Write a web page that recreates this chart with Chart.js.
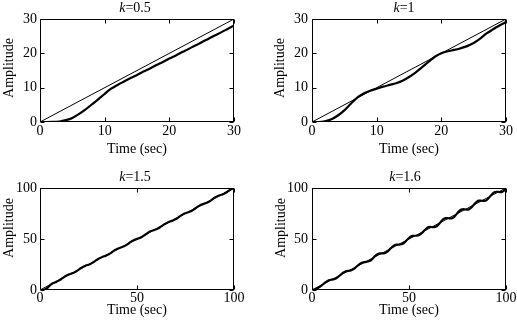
<!DOCTYPE html>
<html><head><meta charset="utf-8">
<script src="https://cdn.jsdelivr.net/npm/chart.js@4"></script>
<style>
html,body{margin:0;padding:0;background:#fff;width:517px;height:325px;overflow:hidden}
canvas{position:absolute}
</style></head><body>
<canvas id="c1" width="258" height="162" style="left:0;top:0"></canvas>
<canvas id="c2" width="259" height="162" style="left:258px;top:0"></canvas>
<canvas id="c3" width="258" height="163" style="left:0;top:162px"></canvas>
<canvas id="c4" width="259" height="163" style="left:258px;top:162px"></canvas>
<script>
// ---- data ----
const tShort = [0,1,2,3,4,5,6,7,8,9,10,11,12,13,14,15,16,17,18,19,20,21,22,23,24,25,26,27,28,29,30];
const respK05 = [0,0,0.02,0.15,0.55,1.2,2.3,3.6,5.1,6.6,8.2,9.7,10.8,11.8,12.8,13.7,14.7,15.6,16.6,17.5,18.5,19.4,20.4,21.3,22.3,23.2,24.2,25.2,26.1,27.1,28.1];
const respK1 = [0,0,0.2,0.8,1.9,3.4,5.3,7.1,8.3,9.1,9.7,10.3,10.8,11.3,12.0,13.1,14.4,15.9,17.5,19.0,20.0,20.6,21.0,21.5,22.1,23.0,24.3,25.8,27.0,28.1,29.1];
const tLong = [0,1,2,3,4,5,6,7,8,9,10,11,12,13,14,15,16,17,18,19,20,21,22,23,24,25,26,27,28,29,30,31,32,33,34,35,36,37,38,39,40,41,42,43,44,45,46,47,48,49,50,51,52,53,54,55,56,57,58,59,60,61,62,63,64,65,66,67,68,69,70,71,72,73,74,75,76,77,78,79,80,81,82,83,84,85,86,87,88,89,90,91,92,93,94,95,96,97,98,99,100];
const respK15 = [0,0,0.2,0.9,2.3,4.3,5.9,6.9,7.7,8.5,9.6,10.8,12.2,13.5,14.5,15.3,15.9,16.6,17.5,18.7,20.0,21.3,22.5,23.4,24.2,24.8,25.6,26.6,27.8,29.2,30.4,31.5,32.3,33.0,33.7,34.5,35.6,36.9,38.3,39.5,40.5,41.2,41.9,42.6,43.5,44.7,46.1,47.4,48.5,49.4,50.1,50.7,51.5,52.6,53.9,55.2,56.5,57.5,58.3,58.9,59.6,60.5,61.7,63.0,64.3,65.5,66.4,67.2,67.8,68.6,69.6,70.8,72.2,73.4,74.5,75.3,76.0,76.7,77.5,78.6,79.9,81.3,82.5,83.5,84.2,84.9,85.6,86.5,87.7,89.1,90.4,91.5,92.4,93.1,93.7,94.5,95.6,96.9,98.1,99.2,99.8];
const respK16 = [0,0.2,1.0,2.0,3.1,4.5,6.1,7.6,8.9,9.7,10.1,10.4,11.0,12.1,13.7,15.4,16.9,18.0,18.5,18.8,19.2,20.0,21.3,23.0,24.6,26.0,26.8,27.3,27.5,28.1,28.7,30.4,32.4,34.2,35.4,35.9,36.0,36.0,36.6,37.9,39.7,41.7,43.3,44.3,44.5,44.5,44.8,45.6,47.2,49.2,51.0,52.4,53.0,53.2,53.2,53.6,54.8,56.5,58.5,60.3,61.7,61.9,61.7,61.6,62.2,63.8,65.9,68.2,69.8,70.5,70.5,70.2,70.3,71.3,73.2,75.5,77.5,78.8,79.2,78.9,78.8,79.2,80.6,82.7,84.9,86.7,87.6,87.7,87.4,87.4,88.2,90.0,92.2,94.3,95.8,96.3,96.2,95.9,96.2,97.4,99.4];
const rampShortT = [0,30], rampShortY = [0,30];
const rampLongT = [0,100], rampLongY = [0,100];
const kValues = ['0.5','1','1.5','1.6'];
const xTitle = 'Time (sec)', yTitle = 'Amplitude';

const FONT = "'Liberation Serif','Times New Roman',serif";

function pts(xs, ys){ return xs.map((x,i)=>({x:x, y:ys[i]})); }

function make(id, times, resp, rT, rY, maxV, step, kText, g){
  const deco = {
    id:'deco',
    afterDraw(chart){
      const ctx = chart.ctx, ca = chart.chartArea;
      const xs = chart.scales.x, ys = chart.scales.y;
      ctx.save();
      ctx.strokeStyle = '#000'; ctx.lineWidth = 1;
      const L = Math.round(ca.left)+0.5, R = Math.round(ca.right)-0.5;
      const T = Math.round(ca.top)+0.5, B = Math.round(ca.bottom)-0.5;
      ctx.strokeRect(L, T, R-L, B-T);
      const tl = 4;
      ctx.beginPath();
      xs.ticks.forEach(t=>{
        const p = Math.round(xs.getPixelForValue(t.value))+0.5;
        ctx.moveTo(p,B); ctx.lineTo(p,B-tl);
        ctx.moveTo(p,T); ctx.lineTo(p,T+tl);
      });
      ys.ticks.forEach(t=>{
        const p = Math.round(ys.getPixelForValue(t.value))+0.5;
        ctx.moveTo(L,p); ctx.lineTo(L+tl,p);
        ctx.moveTo(R,p); ctx.lineTo(R-tl,p);
      });
      ctx.stroke();
      ctx.fillStyle = '#000';
      ctx.textBaseline = 'middle';
      // title with italic k
      const cx = (ca.left+ca.right)/2 + g.titleDx;
      ctx.font = 'italic 14px ' + FONT;
      const wk = ctx.measureText('k').width;
      ctx.font = '14px ' + FONT;
      const rest = '=' + kText;
      const wr = ctx.measureText(rest).width;
      let x0 = cx - (wk+wr)/2;
      ctx.textAlign = 'left';
      ctx.font = 'italic 14px ' + FONT;
      ctx.fillText('k', x0, g.titleY);
      ctx.font = '14px ' + FONT;
      ctx.fillText(rest, x0+wk, g.titleY);
      // x title
      ctx.textAlign = 'center';
      ctx.fillText(xTitle, (ca.left+ca.right)/2, g.xTitleY);
      // y title
      ctx.translate(g.yTitleX, g.yTitleY);
      ctx.rotate(-Math.PI/2);
      ctx.fillText(yTitle, 0, 0);
      ctx.restore();
    }
  };
  new Chart(document.getElementById(id), {
    type:'line',
    data:{datasets:[
      {data:pts(times, resp), borderColor:'#000', borderWidth:2.2, pointRadius:0, cubicInterpolationMode:'monotone', fill:false},
      {data:pts(rT, rY), borderColor:'#000', borderWidth:1, pointRadius:0, fill:false}
    ]},
    options:{
      responsive:false, animation:false, devicePixelRatio:1,
      layout:{padding:{left:g.padL, right:g.padR, top:g.padT, bottom:g.padB}},
      plugins:{legend:{display:false}, title:{display:false}, tooltip:{enabled:false}},
      events:[],
      scales:{
        x:{type:'linear', min:0, max:maxV,
           ticks:{stepSize:step, color:'#000', font:{family:FONT, size:14}, padding:g.xTickPad, maxRotation:0, autoSkip:false},
           grid:{display:false, drawTicks:false, tickLength:0}, border:{display:false},
           afterFit:(s)=>{ s.height = g.xH; s.paddingLeft = 0; s.paddingRight = 0; }},
        y:{type:'linear', min:0, max:maxV,
           ticks:{stepSize:step, color:'#000', font:{family:FONT, size:14}, padding:g.yTickPad},
           grid:{display:false, drawTicks:false, tickLength:0}, border:{display:false},
           afterFit:(s)=>{ s.width = g.yW; s.paddingTop = 0; s.paddingBottom = 0; }}
      }
    },
    plugins:[deco]
  });
}

make('c1', tShort, respK05, rampShortT, rampShortY, 30, 10, kValues[0],
  {padL:0, padR:24, padT:19, padB:10, yW:40, xH:30, xTickPad:1, yTickPad:3, titleY:8, titleDx:-2, xTitleY:149, yTitleX:9, yTitleY:68});
make('c2', tShort, respK1, rampShortT, rampShortY, 30, 10, kValues[1],
  {padL:0, padR:11, padT:19, padB:10, yW:54, xH:30, xTickPad:1, yTickPad:4, titleY:8, titleDx:-5, xTitleY:149, yTitleX:22, yTitleY:68});
make('c3', tLong, respK15, rampLongT, rampLongY, 100, 50, kValues[2],
  {padL:0, padR:24, padT:26, padB:10, yW:40, xH:25, xTickPad:0, yTickPad:3, titleY:15, titleDx:-2, xTitleY:148, yTitleX:9, yTitleY:66});
make('c4', tLong, respK16, rampLongT, rampLongY, 100, 50, kValues[3],
  {padL:0, padR:11, padT:26, padB:10, yW:54, xH:25, xTickPad:0, yTickPad:4, titleY:15, titleDx:-4, xTitleY:148, yTitleX:23, yTitleY:66});
</script>
</body></html>
